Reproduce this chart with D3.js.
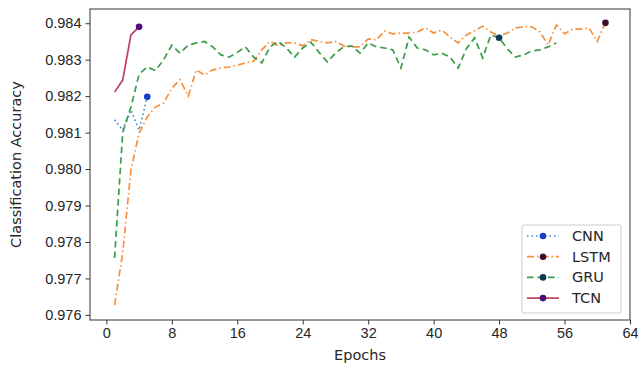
<!DOCTYPE html>
<html>
<head>
<meta charset="utf-8">
<script src="https://cdn.jsdelivr.net/npm/d3@7"></script>
<style>
  body { margin: 0; background: #fff; }
  svg { font-family: "DejaVu Sans", sans-serif; }
</style>
</head>
<body>
<div id="chart"></div>
<script>
// accuracy per epoch
var cnnAcc = [0.98135, 0.98107, 0.98162, 0.98107, 0.98198];
var lstmAcc = [0.97627, 0.9777, 0.97997, 0.98099, 0.98143, 0.9817, 0.98181, 0.98222, 0.98245, 0.9820,
  0.98272, 0.98258, 0.98272, 0.98277, 0.9828, 0.98285, 0.98291, 0.98296, 0.98327, 0.9835,
  0.98338, 0.98346, 0.98346, 0.98338, 0.98355, 0.9835, 0.98346, 0.9835, 0.98338, 0.98335,
  0.98335, 0.98357, 0.98354, 0.98379, 0.98371, 0.98373, 0.98373, 0.98376, 0.98387, 0.98373,
  0.98381, 0.98362, 0.98346, 0.98368, 0.98379, 0.98392, 0.98376, 0.98365, 0.98373, 0.98387,
  0.9839, 0.9839, 0.98376, 0.9834, 0.98395, 0.98371, 0.98384, 0.98384, 0.98387, 0.9835, 0.98401];
var gruAcc = [0.97756, 0.9810, 0.9817, 0.9826, 0.9828, 0.9827, 0.9830, 0.9834, 0.98318, 0.9834,
  0.98346, 0.9835, 0.98335, 0.98313, 0.98307, 0.9832, 0.98335, 0.98307, 0.98291, 0.98335,
  0.9835, 0.98332, 0.98307, 0.98332, 0.98348, 0.9832, 0.98294, 0.98318, 0.98335, 0.98338,
  0.98318, 0.98346, 0.98335, 0.98332, 0.98327, 0.98277, 0.98362, 0.98332, 0.98327, 0.98313,
  0.98318, 0.98307, 0.98277, 0.9833, 0.9836, 0.98305, 0.98368, 0.9836, 0.9833, 0.98307,
  0.98313, 0.98324, 0.98327, 0.98335, 0.98346];
var tcnAcc = [0.98211, 0.98244, 0.98368, 0.9839];

var seriesNames = ['CNN', 'LSTM', 'GRU', 'TCN'];
var markEpoch = [5, 61, 48, 4];
var xTicks = [0, 8, 16, 24, 32, 40, 48, 56, 64];
var yTicks = [0.976, 0.977, 0.978, 0.979, 0.980, 0.981, 0.982, 0.983, 0.984];

var W = 638, H = 365;
var margin = { left: 90, right: 8, top: 9, bottom: 45 };
var fontPx = '14.5px';

var styles = [
  { color: '#3f88c8', dash: '1.5,3', marker: '#1540c8' },
  { color: '#f7903a', dash: '7,3,1.5,3', marker: '#3c0c2c' },
  { color: '#3a9c48', dash: '6.5,4', marker: '#0c3c52' },
  { color: '#c2405a', dash: null, marker: '#4a0c7c' }
];

var allData = [cnnAcc, lstmAcc, gruAcc, tcnAcc].map(function (arr, k) {
  return arr.map(function (v, i) { return { epoch: i + 1, acc: v, k: k }; });
});

var svg = d3.select('#chart').append('svg')
  .attr('width', W)
  .attr('height', H);

var x = d3.scaleLinear()
  .domain([-2, 64])
  .range([margin.left, W - margin.right]);

var y = d3.scaleLinear()
  .domain([0.97586, 0.98439])
  .range([H - margin.bottom, margin.top]);

var line = d3.line()
  .x(function (d) { return x(d.epoch); })
  .y(function (d) { return y(d.acc); });

// series lines
allData.forEach(function (data, k) {
  svg.append('path')
    .datum(data)
    .attr('fill', 'none')
    .attr('stroke', styles[k].color)
    .attr('stroke-width', 1.7)
    .attr('stroke-dasharray', styles[k].dash)
    .attr('d', line);

  var m = data.filter(function (d) { return d.epoch === markEpoch[k]; });
  svg.selectAll('.mk' + k)
    .data(m)
    .enter().append('circle')
    .attr('class', 'mk' + k)
    .attr('cx', function (d) { return x(d.epoch); })
    .attr('cy', function (d) { return y(d.acc); })
    .attr('r', 3.3)
    .attr('fill', styles[k].marker);
});

// axes
var xAxis = svg.append('g')
  .attr('transform', 'translate(0,' + (H - margin.bottom) + ')')
  .call(d3.axisBottom(x).tickValues(xTicks).tickSize(4.5).tickPadding(3).tickFormat(d3.format('d')));

var yAxis = svg.append('g')
  .attr('transform', 'translate(' + margin.left + ',0)')
  .call(d3.axisLeft(y).tickValues(yTicks).tickSize(4.5).tickPadding(4).tickFormat(d3.format('.3f')));

[xAxis, yAxis].forEach(function (g) {
  g.select('.domain').remove();
  g.selectAll('line').attr('stroke', '#333');
  g.selectAll('text').attr('fill', '#262626').style('font-size', fontPx);
});

// frame
svg.append('rect')
  .attr('x', margin.left)
  .attr('y', margin.top)
  .attr('width', W - margin.left - margin.right)
  .attr('height', H - margin.top - margin.bottom)
  .attr('fill', 'none')
  .attr('stroke', '#333')
  .attr('stroke-width', 1);

svg.append('text')
  .attr('x', (margin.left + W - margin.right) / 2)
  .attr('y', H - 5)
  .attr('text-anchor', 'middle')
  .attr('fill', '#262626')
  .style('font-size', fontPx)
  .text('Epochs');

svg.append('text')
  .attr('transform', 'translate(21,' + ((margin.top + H - margin.bottom) / 2) + ') rotate(-90)')
  .attr('text-anchor', 'middle')
  .attr('fill', '#262626')
  .style('font-size', fontPx)
  .text('Classification Accuracy');

// legend
var lg = svg.append('g').attr('transform', 'translate(522,225)');
lg.append('rect')
  .attr('width', 99)
  .attr('height', 88)
  .attr('rx', 2)
  .attr('fill', '#fff')
  .attr('stroke', '#ccc');

var rows = lg.selectAll('g.row')
  .data(seriesNames)
  .enter().append('g')
  .attr('class', 'row')
  .attr('transform', function (d, i) { return 'translate(0,' + (11 + i * 20.7) + ')'; });

rows.append('line')
  .attr('x1', 5).attr('x2', 37)
  .attr('stroke', function (d, i) { return styles[i].color; })
  .attr('stroke-width', 1.7)
  .attr('stroke-dasharray', function (d, i) { return styles[i].dash; });

rows.append('circle')
  .attr('cx', 21)
  .attr('r', 3.3)
  .attr('fill', function (d, i) { return styles[i].marker; });

rows.append('text')
  .attr('x', 50)
  .attr('dy', '0.35em')
  .attr('fill', '#262626')
  .style('font-size', fontPx)
  .text(function (d) { return d; });
</script>
</body>
</html>
